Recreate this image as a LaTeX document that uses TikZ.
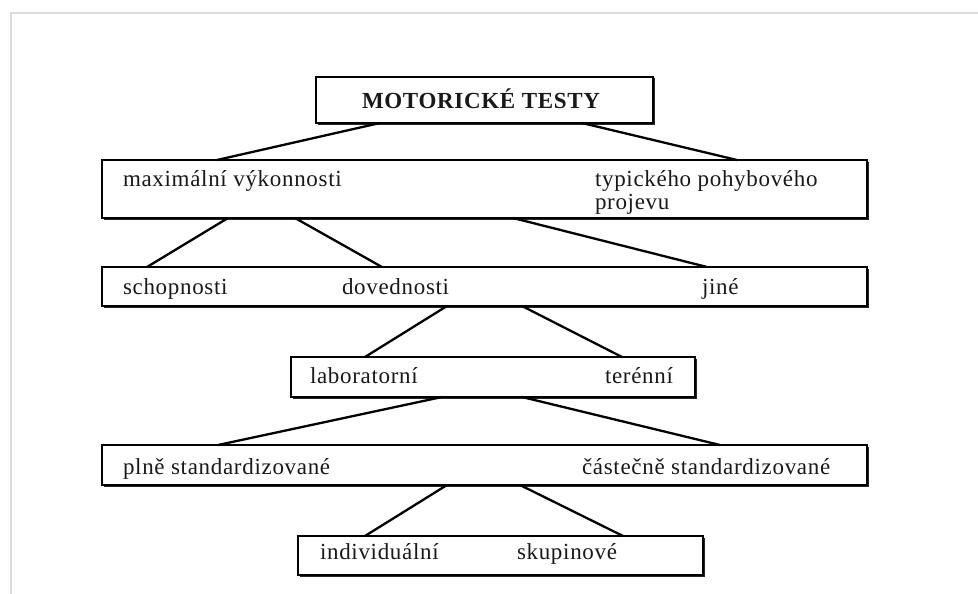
\documentclass[tikz,border=0pt]{standalone}
\usepackage{fontspec}
\setmainfont{Liberation Serif}[LetterSpace=3]
\usetikzlibrary{calc,shadows}
\begin{document}
\begin{tikzpicture}[x=1pt,y=-1pt,
  box/.style={draw=black, fill=white, line width=2.4pt, inner sep=0pt, outer sep=0pt, rectangle,
    drop shadow={shadow xshift=2pt, shadow yshift=-1.5pt, opacity=0.85, fill=black}},
  lbl/.style={anchor=base west, inner sep=0pt, outer sep=0pt, text=black!90, font=\fontsize{23}{27}\selectfont},
  conn/.style={line width=2.3pt, line cap=round}]
\useasboundingbox (0,0) rectangle (978,594);
\fill[white] (0,0) rectangle (978,594);
% page frame
\draw[black!14, line width=2.5pt] (11,594) -- (11,13) -- (978,13);
% boxes
\node[box, minimum width=337pt, minimum height=46pt] (b1) at (484.5,100) {};
\node[box, minimum width=765pt, minimum height=58pt] (b2) at (484.5,189) {};
\node[box, minimum width=765pt, minimum height=39pt] (b3) at (484.5,286.5) {};
\node[box, minimum width=404pt, minimum height=40pt] (b4) at (493,377) {};
\node[box, minimum width=765pt, minimum height=40pt] (b5) at (484.5,465) {};
\node[box, minimum width=405pt, minimum height=39pt] (b6) at (500.5,555.5) {};
% texts
\node[lbl, font=\bfseries\fontsize{23}{27}\selectfont] (t1) at (362,108) {MOTORICKÉ TESTY};
\node[lbl] (t2a) at (123,186) {maximální výkonnosti};
\node[lbl] (t2b) at (595,186) {typického pohybového};
\node[lbl] (t2c) at (595,209) {projevu};
\node[lbl] (t3a) at (123,294) {schopnosti};
\node[lbl] (t3b) at (342,294) {dovednosti};
\node[lbl] (t3c) at (702,294) {jiné};
\node[lbl] (t4a) at (310,383) {laboratorní};
\node[lbl] (t4b) at (605,383) {terénní};
\node[lbl] (t5a) at (123,474) {plně standardizované};
\node[lbl] (t5b) at (582,474) {částečně standardizované};
\node[lbl] (t6a) at (320,559) {individuální};
\node[lbl] (t6b) at (517,559) {skupinové};
% connectors
\draw[conn] ($(b1.south west)+(64,0)$) -- ($(b2.north west)+(115,0)$);
\draw[conn] ($(b1.south west)+(266,0)$) -- ($(b2.north west)+(635,0)$);
\draw[conn] ($(b2.south west)+(126,0)$) -- ($(b3.north west)+(45,0)$);
\draw[conn] ($(b2.south west)+(193,0)$) -- ($(b3.north west)+(280,0)$);
\draw[conn] ($(b2.south west)+(411,0)$) -- ($(b3.north west)+(605,0)$);
\draw[conn] ($(b3.south west)+(345,0)$) -- ($(b4.north west)+(74,0)$);
\draw[conn] ($(b3.south west)+(420,0)$) -- ($(b4.north west)+(331,0)$);
\draw[conn] ($(b4.south west)+(151,0)$) -- ($(b5.north west)+(116,0)$);
\draw[conn] ($(b4.south west)+(231,0)$) -- ($(b5.north west)+(618,0)$);
\draw[conn] ($(b5.south west)+(345,0)$) -- ($(b6.north west)+(67,0)$);
\draw[conn] ($(b5.south west)+(418,0)$) -- ($(b6.north west)+(325,0)$);
\end{tikzpicture}
\end{document}
